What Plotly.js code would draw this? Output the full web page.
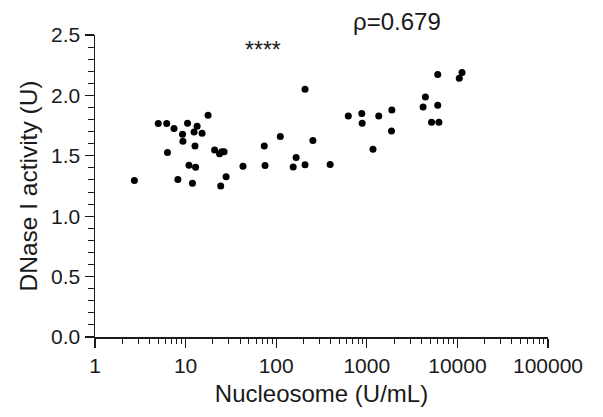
<!DOCTYPE html>
<html>
<head>
<meta charset="utf-8">
<script src="https://cdn.plot.ly/plotly-3.0.1.min.js"></script>
<style>html,body{margin:0;padding:0;background:#fff;}#chart{width:603px;height:417px;}</style>
</head>
<body>
<div id="chart"></div>
<script>
// Nucleosome concentration (U/mL)
var nucleosome = [2.72, 4.99, 6.19, 6.31, 7.45, 8.22, 9.25, 9.34, 10.5, 10.9,
  11.9, 12.4, 12.7, 12.9, 13.4, 15.2, 17.7, 20.9, 23.7, 25.1,
  26.6, 24.4, 28.0, 43.0, 73.8, 75.3, 111, 154, 166, 208,
  208, 254, 394, 625, 881, 889, 1170, 1355, 1890, 1873,
  4180, 4433, 6067, 5190, 6250, 6067, 10490, 11250];
// DNase I activity (U)
var dnase = [1.295, 1.767, 1.767, 1.527, 1.725, 1.304, 1.679, 1.621, 1.770, 1.422,
  1.273, 1.698, 1.582, 1.406, 1.745, 1.687, 1.836, 1.549, 1.516, 1.533,
  1.533, 1.249, 1.326, 1.414, 1.582, 1.420, 1.659, 1.408, 1.486, 2.051,
  1.425, 1.626, 1.428, 1.830, 1.850, 1.770, 1.555, 1.830, 1.880, 1.706,
  1.905, 1.987, 1.918, 1.778, 1.778, 2.172, 2.142, 2.189];

var xTickVals = [1, 10, 100, 1000, 10000, 100000];
var xTickText = ["1", "10", "100", "1000", "10000", "100000"];
var yTickVals = [0, 0.5, 1.0, 1.5, 2.0, 2.5];
var yTickText = ["0.0", "0.5", "1.0", "1.5", "2.0", "2.5"];

var rhoLabel = "\u03c1=0.679";
var sigLabel = "****";

var FONT = "Liberation Sans, Arial, Helvetica, sans-serif";
var INK = "#1a1a1a";

var trace = {
  x: nucleosome,
  y: dnase,
  type: "scatter",
  mode: "markers",
  marker: {color: "#000", size: 7},
  hoverinfo: "x+y"
};

var layout = {
  width: 603, height: 417,
  margin: {l: 95, r: 55, t: 35, b: 80, pad: 0},
  paper_bgcolor: "#fff", plot_bgcolor: "#fff",
  showlegend: false,
  font: {family: FONT, color: INK},
  xaxis: {
    type: "log",
    range: [0, 5],
    tickvals: xTickVals,
    ticktext: xTickText,
    ticks: "outside", ticklen: 9, tickwidth: 1.3, tickcolor: INK,
    showline: true, linecolor: INK, linewidth: 1.5,
    showgrid: false, zeroline: false,
    tickfont: {size: 21, family: FONT, color: INK},
    minor: {ticks: "outside", ticklen: 5, tickwidth: 1, tickcolor: INK, dtick: "D1", showgrid: false},
    title: {text: "Nucleosome (U/mL)", font: {size: 24, family: FONT, color: INK}, standoff: 9},
    automargin: false
  },
  yaxis: {
    range: [0, 2.5],
    tickvals: yTickVals,
    ticktext: yTickText,
    ticks: "outside", ticklen: 9, tickwidth: 1.3, tickcolor: INK,
    showline: true, linecolor: INK, linewidth: 1.5,
    showgrid: false, zeroline: false,
    tickfont: {size: 21, family: FONT, color: INK},
    minor: {ticks: "outside", ticklen: 6, tickwidth: 1, tickcolor: INK, dtick: 0.1, showgrid: false},
    title: {text: "DNase I activity (U)", font: {size: 24.5, family: FONT, color: INK}, standoff: 6},
    automargin: false
  },
  annotations: [
    {text: rhoLabel, xref: "paper", yref: "paper", x: 0.667, y: 1.046,
     xanchor: "center", yanchor: "middle", showarrow: false,
     font: {size: 24, family: FONT, color: INK}},
    {text: sigLabel, xref: "paper", yref: "paper", x: 0.37, y: 0.95,
     xanchor: "center", yanchor: "middle", showarrow: false,
     font: {size: 23, family: FONT, color: INK}}
  ]
};

Plotly.newPlot("chart", [trace], layout, {displayModeBar: false, staticPlot: true});
</script>
</body>
</html>
